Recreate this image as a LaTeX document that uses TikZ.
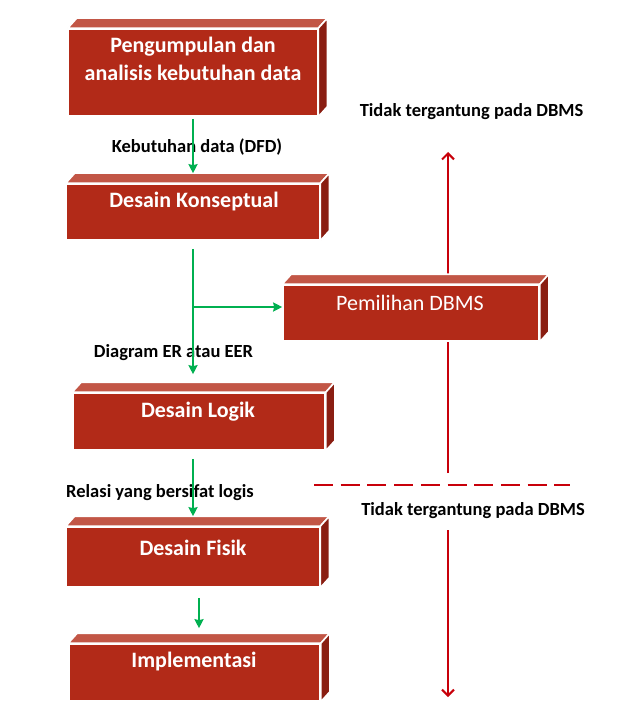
\documentclass[tikz,border=0pt]{standalone}
\usepackage{fontspec}
\setmainfont{Carlito}
\usetikzlibrary{calc,arrows.meta}
\pgfdeclarelayer{background}
\pgfsetlayers{background,main}
\definecolor{boxred}{RGB}{178,42,24}
\definecolor{boxtop}{RGB}{194,86,70}
\definecolor{boxside}{RGB}{138,30,18}
\definecolor{gline}{RGB}{0,176,80}
\definecolor{rline}{RGB}{200,0,10}
\tikzset{
  face/.style={fill=boxred, draw=white, line width=1.6pt, inner sep=0pt},
  topface/.style={fill=boxtop, draw=white, line width=1.6pt, line join=round},
  sideface/.style={fill=boxside, draw=white, line width=1.6pt, line join=round},
  boxtxt/.style={text=white, font=\bfseries\fontsize{22}{26}\selectfont, inner sep=0pt, align=center},
  lbl/.style={text=black, font=\bfseries\fontsize{18.5}{22}\selectfont, inner sep=0pt},
  garrow/.style={draw=gline, line width=2pt, -{Stealth[length=9pt,width=9pt,inset=1pt]}},
  rarrow/.style={draw=rline, line width=2pt, -{Straight Barb[length=6pt,width=12pt]}},
  rdash/.style={draw=rline, line width=2pt, dash pattern=on 19pt off 7.7pt},
}
\newcommand\boxsides[1]{%
  \begin{pgfonlayer}{background}
    \fill[black!35, opacity=0.45] ($(#1.north west)+(2,4)$) -- ($(#1.north west)+(11,-6)$) -- ($(#1.north east)+(11,-6)$) -- ($(#1.south east)+(11,-6)$) -- ($(#1.south east)+(2,4)$) -- ($(#1.south west)+(2,4)$) -- cycle;
  \end{pgfonlayer}
  \draw[topface] (#1.north west) -- ++(9,-10) -- ($(#1.north east)+(9,-10)$) -- (#1.north east) -- cycle;
  \draw[sideface] (#1.north east) -- ++(9,-10) -- ($(#1.south east)+(9,-10)$) -- (#1.south east) -- cycle;
}
\begin{document}
\begin{tikzpicture}[x=1pt,y=-1pt]
\useasboundingbox[fill=white] (0,0) rectangle (619,714);

% red lines (behind boxes)
\coordinate (rt) at (448,152);
\coordinate (rm1) at (448,473);
\coordinate (rm2) at (448,530);
\coordinate (rb) at (448,697);
\coordinate (dl) at (314,485);
\coordinate (dr) at (570,485);
\draw[rarrow] (rm1) -- (rt);
\draw[rarrow] (rm2) -- (rb);
\draw[rdash] (dl) -- (dr);

% boxes
\node[face, minimum width=249pt, minimum height=87pt] (b1) at (193,72.5) {};
\boxsides{b1}
\node[face, minimum width=253pt, minimum height=56pt] (b2) at (193,212) {};
\boxsides{b2}
\node[face, minimum width=256pt, minimum height=56pt] (b3) at (411,313) {};
\boxsides{b3}
\node[face, minimum width=252pt, minimum height=57pt] (b4) at (199,421.5) {};
\boxsides{b4}
\node[face, minimum width=253pt, minimum height=60pt] (b5) at (193,557) {};
\boxsides{b5}
\node[face, minimum width=251pt, minimum height=57pt] (b6) at (194.5,672.5) {};
\boxsides{b6}

% box texts
\node[boxtxt] (t1a) at (193,47) {Pengumpulan dan};
\node[boxtxt] (t1b) at (193,73) {analisis kebutuhan data};
\node[boxtxt] (t2) at (194,202) {Desain Konseptual};
\node[boxtxt, font=\fontsize{22}{26}\selectfont] (t3) at (410,303) {Pemilihan DBMS};
\node[boxtxt] (t4) at (198,412) {Desain Logik};
\node[boxtxt] (t5) at (193,548) {Desain Fisik};
\node[boxtxt] (t6) at (194,662) {Implementasi};

% labels
\node[lbl] (l1) at (197,147) {Kebutuhan data (DFD)};
\node[lbl] (l2) at (173.5,353) {Diagram ER atau EER};
\node[lbl] (l3) at (160,493) {Relasi yang bersifat logis};
\node[lbl] (l4) at (471.5,112) {Tidak tergantung pada DBMS};
\node[lbl] (l5) at (473,511) {Tidak tergantung pada DBMS};

% green arrows
\draw[garrow, shorten <=2pt] (b1.south) -- ($(b2.north)+(0,-10)$);
\draw[garrow, shorten <=8pt, shorten >=18pt] (b2.south) -- (b2.south |- b4.north);
\coordinate (br) at (193,307);
\draw[garrow] (br) -- (br -| b3.west);
\draw[garrow, shorten <=8pt, shorten >=10pt] (b2.south |- b4.south) -- (b2.south |- b5.north);
\draw[garrow, shorten <=10pt, shorten >=15pt] (b4.south |- b5.south) -- (b4.south |- b6.north);
\end{tikzpicture}
\end{document}
